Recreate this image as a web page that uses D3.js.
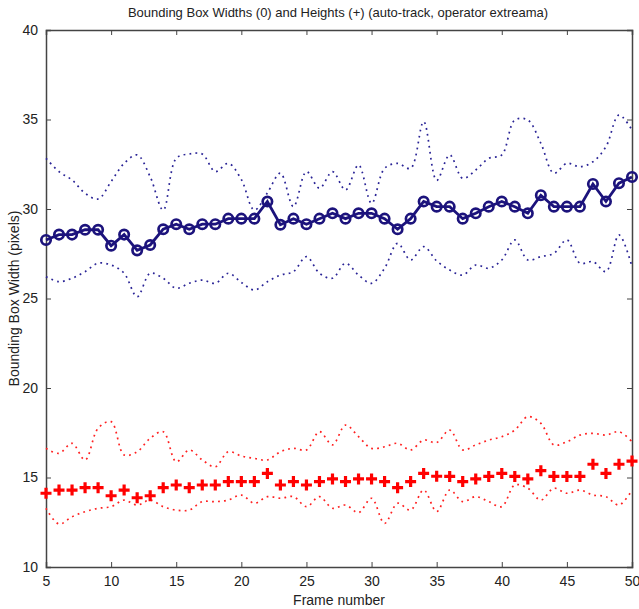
<!DOCTYPE html>
<html><head><meta charset="utf-8">
<script src="https://cdn.jsdelivr.net/npm/d3@7"></script>
<style>
body{margin:0;background:#fff;}
svg{display:block;}
text{font-family:"Liberation Sans Narrow","Liberation Sans",Arial,sans-serif;fill:#222;}
</style></head>
<body>
<svg id="chart" width="639" height="609"></svg>
<script>
const frames = d3.range(5, 51);
const widthMean = [28.27,28.57,28.57,28.84,28.84,27.95,28.57,27.69,27.99,28.87,29.15,28.87,29.15,29.15,29.46,29.46,29.46,30.42,29.12,29.46,29.15,29.46,29.76,29.46,29.76,29.76,29.46,28.87,29.46,30.42,30.13,30.13,29.46,29.76,30.13,30.42,30.13,29.76,30.77,30.13,30.13,30.13,31.40,30.42,31.44,31.79];
const widthMax = [32.83,32.09,31.62,30.88,30.56,31.53,32.55,33.02,31.80,29.94,32.83,33.07,33.07,32.09,32.55,31.65,29.94,30.90,32.00,30.13,32.09,31.16,32.09,31.06,32.46,30.32,32.27,32.55,32.27,34.88,31.60,33.02,31.71,32.18,32.83,33.02,34.97,34.97,33.67,32.00,32.55,32.36,32.64,33.48,35.25,34.41];
const widthMin = [26.22,25.94,26.13,26.50,26.97,26.87,26.41,25.10,26.41,26.13,25.57,25.85,26.03,25.85,26.41,25.90,25.47,25.94,26.31,26.50,27.34,26.41,26.13,26.97,26.31,25.85,26.69,28.08,27.15,27.90,27.10,26.59,26.31,26.87,26.69,27.15,28.27,27.15,27.34,27.52,28.27,26.97,27.06,26.50,28.55,26.78];
const heightMean = [14.12,14.30,14.30,14.43,14.43,13.98,14.30,13.87,13.98,14.43,14.58,14.43,14.58,14.58,14.77,14.77,14.77,15.23,14.58,14.77,14.58,14.77,14.92,14.77,14.92,14.92,14.77,14.43,14.77,15.23,15.07,15.06,14.77,14.92,15.06,15.23,15.06,14.92,15.38,15.06,15.06,15.06,15.74,15.23,15.74,15.92];
const heightMax = [16.63,16.35,16.91,15.98,17.75,18.12,16.26,16.44,17.19,17.56,15.88,16.54,15.98,15.60,16.44,16.20,16.07,15.98,16.44,16.63,16.54,17.56,16.82,17.93,17.28,16.63,16.72,16.91,16.54,17.09,16.95,17.65,16.54,16.82,17.09,17.28,17.65,18.40,18.03,16.82,17.00,17.37,17.47,17.37,17.56,17.00];
const heightMin = [13.28,12.40,12.81,13.09,13.28,13.37,13.74,13.46,13.74,13.37,13.18,13.18,13.65,13.65,13.74,14.02,13.56,13.93,13.84,13.93,13.37,13.93,13.28,13.46,13.04,13.84,12.44,13.56,13.18,14.30,13.10,14.30,13.65,13.93,13.65,13.37,14.58,14.40,13.74,14.40,14.12,14.30,14.02,13.93,13.46,14.30];
const xTicks = [5,10,15,20,25,30,35,40,45,50];
const yTicks = [10,15,20,25,30,35,40];
const title = "Bounding Box Widths (0) and Heights (+) (auto-track, operator extreama)";
const xLabel = "Frame number";
const yLabel = "Bounding Box Width (pixels)";

const svg = d3.select("#chart");
const L = 46, R = 632, T = 30, B = 567;
const x = d3.scaleLinear().domain([5, 50]).range([L, R]);
const y = d3.scaleLinear().domain([10, 40]).range([B, T]);

const axisColor = "#444";
const gB = svg.append("g").attr("transform", `translate(0,${B})`).call(d3.axisBottom(x).tickValues(xTicks).tickSize(-5).tickPadding(9));
const gT = svg.append("g").attr("transform", `translate(0,${T})`).call(d3.axisTop(x).tickValues(xTicks).tickSize(-5).tickFormat(""));
const gL = svg.append("g").attr("transform", `translate(${L},0)`).call(d3.axisLeft(y).tickValues(yTicks).tickSize(-5).tickPadding(8));
const gR = svg.append("g").attr("transform", `translate(${R},0)`).call(d3.axisRight(y).tickValues(yTicks).tickSize(-5).tickFormat(""));
[gB, gT, gL, gR].forEach(g => {
  g.select(".domain").attr("stroke", axisColor).attr("stroke-width", 1.5);
  g.selectAll(".tick line").attr("stroke", axisColor).attr("stroke-width", 1);
  g.selectAll(".tick text").attr("font-size", 14).attr("fill", "#222")
    .attr("font-family", '"Liberation Sans Narrow","Liberation Sans",Arial,sans-serif');
});
gL.selectAll(".tick text").attr("dy", "0.32em");

const line = d3.line().x((d, i) => x(frames[i])).y(d => y(d)).curve(d3.curveCatmullRom.alpha(0.5));
const lineLin = d3.line().x((d, i) => x(frames[i])).y(d => y(d));

const dotted = (data, color) => svg.append("path").datum(data)
  .attr("d", line).attr("fill", "none").attr("stroke", color)
  .attr("stroke-width", 1.7).attr("stroke-dasharray", "1.8,4.2");

dotted(widthMax, "#2a2496");
dotted(widthMin, "#2a2496");
dotted(heightMax, "#ff2020");
dotted(heightMin, "#ff2020");

const navy = "#1c137c";
svg.append("path").datum(widthMean).attr("d", lineLin)
  .attr("fill", "none").attr("stroke", navy).attr("stroke-width", 2.8);
svg.append("g").selectAll("circle").data(widthMean).join("circle")
  .attr("cx", (d, i) => x(frames[i])).attr("cy", d => y(d)).attr("r", 4.7)
  .attr("fill", "none").attr("stroke", navy).attr("stroke-width", 2.7);

svg.append("g").selectAll("path").data(heightMean).join("path")
  .attr("transform", (d, i) => `translate(${x(frames[i])},${y(d)})`)
  .attr("d", "M-5.5,0H5.5M0,-5.5V5.5").attr("stroke", "#ff0000").attr("stroke-width", 3.2).attr("fill", "none");

svg.append("text").attr("x", 338).attr("y", 17).attr("text-anchor", "middle")
  .attr("font-size", 13).text(title);
svg.append("text").attr("x", 339).attr("y", 605).attr("text-anchor", "middle")
  .attr("font-size", 14).text(xLabel);
svg.append("text").attr("transform", `translate(19,${(T + B) / 2}) rotate(-90)`).attr("text-anchor", "middle")
  .attr("font-size", 14).text(yLabel);
</script>
</body></html>
